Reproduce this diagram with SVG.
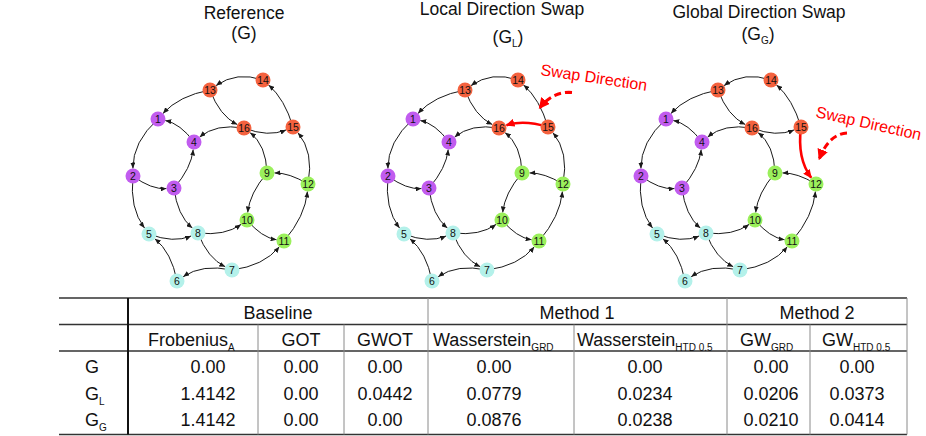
<svg xmlns="http://www.w3.org/2000/svg" width="926" height="436" viewBox="0 0 926 436">
<style>
text{font-family:"Liberation Sans",Arial,Helvetica,sans-serif;fill:#111}
.title{font-size:17.5px;text-anchor:middle}
.e{fill:none;stroke:#1a1a1a;stroke-width:1;marker-end:url(#ah)}
.red{fill:none;stroke:#ff0000;stroke-width:2.6;marker-end:url(#ahr)}
.dash{fill:none;stroke:#ff0000;stroke-width:3;stroke-dasharray:7 4;marker-end:url(#ahd)}
.swap{font-size:16px;fill:#ff0000}
.lbl{font-size:10.5px;text-anchor:middle}
.p{fill:#c15cef}.c{fill:#b4f1ea}.g{fill:#9bf05c}.r{fill:#f4623f}
.th{font-size:18px}
.mid{text-anchor:middle}
.sub{font-size:10px}
.hl{stroke:#333;stroke-width:1.6}
.vl{stroke:#8a8a8a;stroke-width:1}
.vk{stroke:#111;stroke-width:2}
</style>
<defs>
<marker id="ah" markerUnits="userSpaceOnUse" markerWidth="6" markerHeight="5" refX="6" refY="2.5" orient="auto"><path d="M0,0 L6,2.5 L0,5 z" fill="#1a1a1a"/></marker>
<marker id="ahr" markerUnits="userSpaceOnUse" markerWidth="9" markerHeight="8" refX="8" refY="4" orient="auto"><path d="M0,0 L9,4 L0,8 z" fill="#ff0000"/></marker>
<marker id="ahd" markerUnits="userSpaceOnUse" markerWidth="11" markerHeight="11" refX="9" refY="5.5" orient="auto"><path d="M0,0 L11,5.5 L0,11 z" fill="#ff0000"/></marker>
</defs>

<g id="titles">
<text class="title" x="244" y="18.5">Reference</text>
<text class="title" x="244" y="38.5">(G)</text>
<text class="title" x="502" y="15">Local Direction Swap</text>
<text class="title" x="508" y="43">(G<tspan class="sub" dy="4">L</tspan><tspan dy="-4">)</tspan></text>
<text class="title" x="759" y="17.5">Global Direction Swap</text>
<text class="title" x="758" y="40">(G<tspan class="sub" dy="4">G</tspan><tspan dy="-4">)</tspan></text>
</g>

<!-- Graph G -->
<g id="graph-G">
<g id="G-connectors">
<path class="e" d="M263,80 Q236.5,71 216.1,85.6"/>
<path class="e" d="M210,90 Q179.1,95.7 163,113.4"/>
<path class="e" d="M210,90 Q219.5,115.7 237.3,124.6"/>
<path class="e" d="M293,127 Q284.8,99.2 268.6,85"/>
<path class="e" d="M244,128 Q268.5,137.5 286.1,129.9"/>
<path class="e" d="M244,128 Q215.8,123.4 199.7,137.1"/>
<path class="e" d="M194,142 Q180.4,123.7 165.3,120.5"/>
<path class="e" d="M158,119 Q132.7,141.9 132.9,168.5"/>
<path class="e" d="M133,176 Q151.3,189.7 166.5,188.6"/>
<path class="e" d="M174,188 Q191.3,168.2 193.2,149.5"/>
<path class="e" d="M133,176 Q129.4,208.2 144.5,228"/>
<path class="e" d="M174,188 Q177.2,215.3 192.3,228.1"/>
<path class="e" d="M149,234 Q173.5,243.5 191.1,236"/>
<path class="e" d="M177,281 Q171.6,252.4 154.8,238.7"/>
<path class="e" d="M198,233 Q225.1,236.1 241,224.4"/>
<path class="e" d="M198,233 Q207.6,258.3 225.3,266.8"/>
<path class="e" d="M232,270 Q202.1,263.7 183.2,276.7"/>
<path class="e" d="M232,270 Q263.8,265.9 279.3,246.8"/>
<path class="e" d="M247,220 Q261.5,237.5 276.6,239.8"/>
<path class="e" d="M284,241 Q305.2,216.4 307.4,191.5"/>
<path class="e" d="M308,184 Q289.1,172.7 274.5,172.9"/>
<path class="e" d="M267,173 Q249.6,193.3 247.7,212.5"/>
<path class="e" d="M267,173 Q266.2,145 250,132.6"/>
<path class="e" d="M308,184 Q314.1,151.9 297.9,132.7"/>
</g>
<g id="G-n1"><circle class="p" cx="158" cy="119" r="7.5"/><text class="lbl" x="158" y="122.7">1</text></g>
<g id="G-n2"><circle class="p" cx="133" cy="176" r="7.5"/><text class="lbl" x="133" y="179.7">2</text></g>
<g id="G-n3"><circle class="p" cx="174" cy="188" r="7.5"/><text class="lbl" x="174" y="191.7">3</text></g>
<g id="G-n4"><circle class="p" cx="194" cy="142" r="7.5"/><text class="lbl" x="194" y="145.7">4</text></g>
<g id="G-n5"><circle class="c" cx="149" cy="234" r="7.5"/><text class="lbl" x="149" y="237.7">5</text></g>
<g id="G-n6"><circle class="c" cx="177" cy="281" r="7.5"/><text class="lbl" x="177" y="284.7">6</text></g>
<g id="G-n7"><circle class="c" cx="232" cy="270" r="7.5"/><text class="lbl" x="232" y="273.7">7</text></g>
<g id="G-n8"><circle class="c" cx="198" cy="233" r="7.5"/><text class="lbl" x="198" y="236.7">8</text></g>
<g id="G-n9"><circle class="g" cx="267" cy="173" r="7.5"/><text class="lbl" x="267" y="176.7">9</text></g>
<g id="G-n10"><circle class="g" cx="247" cy="220" r="7.5"/><text class="lbl" x="247" y="223.7">10</text></g>
<g id="G-n11"><circle class="g" cx="284" cy="241" r="7.5"/><text class="lbl" x="284" y="244.7">11</text></g>
<g id="G-n12"><circle class="g" cx="308" cy="184" r="7.5"/><text class="lbl" x="308" y="187.7">12</text></g>
<g id="G-n13"><circle class="r" cx="210" cy="90" r="7.5"/><text class="lbl" x="210" y="93.7">13</text></g>
<g id="G-n14"><circle class="r" cx="263" cy="80" r="7.5"/><text class="lbl" x="263" y="83.7">14</text></g>
<g id="G-n15"><circle class="r" cx="293" cy="127" r="7.5"/><text class="lbl" x="293" y="130.7">15</text></g>
<g id="G-n16"><circle class="r" cx="244" cy="128" r="7.5"/><text class="lbl" x="244" y="131.7">16</text></g>
</g>

<!-- Graph GL -->
<g id="graph-GL" transform="translate(255,0)">
<g id="GL-connectors">
<path class="e" d="M263,80 Q236.5,71 216.1,85.6"/>
<path class="e" d="M210,90 Q179.1,95.7 163,113.4"/>
<path class="e" d="M210,90 Q219.5,115.7 237.3,124.6"/>
<path class="e" d="M293,127 Q284.8,99.2 268.6,85"/>
<path class="e" d="M244,128 Q215.8,123.4 199.7,137.1"/>
<path class="e" d="M194,142 Q180.4,123.7 165.3,120.5"/>
<path class="e" d="M158,119 Q132.7,141.9 132.9,168.5"/>
<path class="e" d="M133,176 Q151.3,189.7 166.5,188.6"/>
<path class="e" d="M174,188 Q191.3,168.2 193.2,149.5"/>
<path class="e" d="M133,176 Q129.4,208.2 144.5,228"/>
<path class="e" d="M174,188 Q177.2,215.3 192.3,228.1"/>
<path class="e" d="M149,234 Q173.5,243.5 191.1,236"/>
<path class="e" d="M177,281 Q171.6,252.4 154.8,238.7"/>
<path class="e" d="M198,233 Q225.1,236.1 241,224.4"/>
<path class="e" d="M198,233 Q207.6,258.3 225.3,266.8"/>
<path class="e" d="M232,270 Q202.1,263.7 183.2,276.7"/>
<path class="e" d="M232,270 Q263.8,265.9 279.3,246.8"/>
<path class="e" d="M247,220 Q261.5,237.5 276.6,239.8"/>
<path class="e" d="M284,241 Q305.2,216.4 307.4,191.5"/>
<path class="e" d="M308,184 Q289.1,172.7 274.5,172.9"/>
<path class="e" d="M267,173 Q249.6,193.3 247.7,212.5"/>
<path class="e" d="M267,173 Q266.2,145 250,132.6"/>
<path class="e" d="M308,184 Q314.1,151.9 297.9,132.7"/>
<path class="red" d="M293,127 Q268.5,119.5 251.5,125.3"/>
</g>
<g id="GL-n1"><circle class="p" cx="158" cy="119" r="7.5"/><text class="lbl" x="158" y="122.7">1</text></g>
<g id="GL-n2"><circle class="p" cx="133" cy="176" r="7.5"/><text class="lbl" x="133" y="179.7">2</text></g>
<g id="GL-n3"><circle class="p" cx="174" cy="188" r="7.5"/><text class="lbl" x="174" y="191.7">3</text></g>
<g id="GL-n4"><circle class="p" cx="194" cy="142" r="7.5"/><text class="lbl" x="194" y="145.7">4</text></g>
<g id="GL-n5"><circle class="c" cx="149" cy="234" r="7.5"/><text class="lbl" x="149" y="237.7">5</text></g>
<g id="GL-n6"><circle class="c" cx="177" cy="281" r="7.5"/><text class="lbl" x="177" y="284.7">6</text></g>
<g id="GL-n7"><circle class="c" cx="232" cy="270" r="7.5"/><text class="lbl" x="232" y="273.7">7</text></g>
<g id="GL-n8"><circle class="c" cx="198" cy="233" r="7.5"/><text class="lbl" x="198" y="236.7">8</text></g>
<g id="GL-n9"><circle class="g" cx="267" cy="173" r="7.5"/><text class="lbl" x="267" y="176.7">9</text></g>
<g id="GL-n10"><circle class="g" cx="247" cy="220" r="7.5"/><text class="lbl" x="247" y="223.7">10</text></g>
<g id="GL-n11"><circle class="g" cx="284" cy="241" r="7.5"/><text class="lbl" x="284" y="244.7">11</text></g>
<g id="GL-n12"><circle class="g" cx="308" cy="184" r="7.5"/><text class="lbl" x="308" y="187.7">12</text></g>
<g id="GL-n13"><circle class="r" cx="210" cy="90" r="7.5"/><text class="lbl" x="210" y="93.7">13</text></g>
<g id="GL-n14"><circle class="r" cx="263" cy="80" r="7.5"/><text class="lbl" x="263" y="83.7">14</text></g>
<g id="GL-n15"><circle class="r" cx="293" cy="127" r="7.5"/><text class="lbl" x="293" y="130.7">15</text></g>
<g id="GL-n16"><circle class="r" cx="244" cy="128" r="7.5"/><text class="lbl" x="244" y="131.7">16</text></g>
</g>

<!-- Graph GG -->
<g id="graph-GG" transform="translate(508,0)">
<g id="GG-connectors">
<path class="e" d="M263,80 Q236.5,71 216.1,85.6"/>
<path class="e" d="M210,90 Q179.1,95.7 163,113.4"/>
<path class="e" d="M210,90 Q219.5,115.7 237.3,124.6"/>
<path class="e" d="M293,127 Q284.8,99.2 268.6,85"/>
<path class="e" d="M244,128 Q268.5,137.5 286.1,129.9"/>
<path class="e" d="M244,128 Q215.8,123.4 199.7,137.1"/>
<path class="e" d="M194,142 Q180.4,123.7 165.3,120.5"/>
<path class="e" d="M158,119 Q132.7,141.9 132.9,168.5"/>
<path class="e" d="M133,176 Q151.3,189.7 166.5,188.6"/>
<path class="e" d="M174,188 Q191.3,168.2 193.2,149.5"/>
<path class="e" d="M133,176 Q129.4,208.2 144.5,228"/>
<path class="e" d="M174,188 Q177.2,215.3 192.3,228.1"/>
<path class="e" d="M149,234 Q173.5,243.5 191.1,236"/>
<path class="e" d="M177,281 Q171.6,252.4 154.8,238.7"/>
<path class="e" d="M198,233 Q225.1,236.1 241,224.4"/>
<path class="e" d="M198,233 Q207.6,258.3 225.3,266.8"/>
<path class="e" d="M232,270 Q202.1,263.7 183.2,276.7"/>
<path class="e" d="M232,270 Q263.8,265.9 279.3,246.8"/>
<path class="e" d="M247,220 Q261.5,237.5 276.6,239.8"/>
<path class="e" d="M284,241 Q305.2,216.4 307.4,191.5"/>
<path class="e" d="M308,184 Q289.1,172.7 274.5,172.9"/>
<path class="e" d="M267,173 Q249.6,193.3 247.7,212.5"/>
<path class="e" d="M267,173 Q266.2,145 250,132.6"/>
<path class="red" d="M293,127 Q288.9,158.5 303.2,177.7"/>
</g>
<g id="GG-n1"><circle class="p" cx="158" cy="119" r="7.5"/><text class="lbl" x="158" y="122.7">1</text></g>
<g id="GG-n2"><circle class="p" cx="133" cy="176" r="7.5"/><text class="lbl" x="133" y="179.7">2</text></g>
<g id="GG-n3"><circle class="p" cx="174" cy="188" r="7.5"/><text class="lbl" x="174" y="191.7">3</text></g>
<g id="GG-n4"><circle class="p" cx="194" cy="142" r="7.5"/><text class="lbl" x="194" y="145.7">4</text></g>
<g id="GG-n5"><circle class="c" cx="149" cy="234" r="7.5"/><text class="lbl" x="149" y="237.7">5</text></g>
<g id="GG-n6"><circle class="c" cx="177" cy="281" r="7.5"/><text class="lbl" x="177" y="284.7">6</text></g>
<g id="GG-n7"><circle class="c" cx="232" cy="270" r="7.5"/><text class="lbl" x="232" y="273.7">7</text></g>
<g id="GG-n8"><circle class="c" cx="198" cy="233" r="7.5"/><text class="lbl" x="198" y="236.7">8</text></g>
<g id="GG-n9"><circle class="g" cx="267" cy="173" r="7.5"/><text class="lbl" x="267" y="176.7">9</text></g>
<g id="GG-n10"><circle class="g" cx="247" cy="220" r="7.5"/><text class="lbl" x="247" y="223.7">10</text></g>
<g id="GG-n11"><circle class="g" cx="284" cy="241" r="7.5"/><text class="lbl" x="284" y="244.7">11</text></g>
<g id="GG-n12"><circle class="g" cx="308" cy="184" r="7.5"/><text class="lbl" x="308" y="187.7">12</text></g>
<g id="GG-n13"><circle class="r" cx="210" cy="90" r="7.5"/><text class="lbl" x="210" y="93.7">13</text></g>
<g id="GG-n14"><circle class="r" cx="263" cy="80" r="7.5"/><text class="lbl" x="263" y="83.7">14</text></g>
<g id="GG-n15"><circle class="r" cx="293" cy="127" r="7.5"/><text class="lbl" x="293" y="130.7">15</text></g>
<g id="GG-n16"><circle class="r" cx="244" cy="128" r="7.5"/><text class="lbl" x="244" y="131.7">16</text></g>
</g>

<g id="annotations">
<path class="dash" d="M572,92.5 Q553,91 540,107.5"/>
<text class="swap" transform="translate(540,75) rotate(8.5)">Swap Direction</text>
<path class="dash" d="M847,133 Q829,134 819.5,158.5"/>
<text class="swap" transform="translate(815,117) rotate(12.5)">Swap Direction</text>
</g>

<g id="table">
<path class="hl" d="M59,298 H907 M59,324.5 H907 M59,351 H907 M59,434.5 H907"/>
<path class="vl" d="M428,298 V434.5 M727,298 V434.5 M907,298 V434.5 M258,324.5 V434.5 M344,324.5 V434.5 M574,324.5 V434.5 M810,324.5 V434.5"/>
<path class="vk" d="M128,298 V434.5"/>
<text class="th mid" x="278" y="318.5">Baseline</text>
<text class="th mid" x="577" y="318.5">Method 1</text>
<text class="th mid" x="817" y="318.5">Method 2</text>
<text class="th" x="148" y="346">Frobenius<tspan class="sub" dy="5">A</tspan></text>
<text class="th mid" x="301" y="346">GOT</text>
<text class="th mid" x="385" y="346">GWOT</text>
<text class="th" x="433" y="346">Wasserstein<tspan class="sub" dy="5">GRD</tspan></text>
<text class="th" x="577" y="346">Wasserstein<tspan class="sub" dy="5">HTD 0.5</tspan></text>
<text class="th" x="740" y="346">GW<tspan class="sub" dy="5">GRD</tspan></text>
<text class="th" x="822" y="346">GW<tspan class="sub" dy="5">HTD 0.5</tspan></text>
<text class="th" x="85" y="373">G</text>
<text class="th" x="85" y="399.5">G<tspan class="sub" dy="5">L</tspan></text>
<text class="th" x="85" y="426">G<tspan class="sub" dy="5">G</tspan></text>
<g class="th mid">
<text class="th mid" x="208" y="373">0.00</text>
<text class="th mid" x="301" y="373">0.00</text>
<text class="th mid" x="385" y="373">0.00</text>
<text class="th mid" x="494" y="373">0.00</text>
<text class="th mid" x="645" y="373">0.00</text>
<text class="th mid" x="771" y="373">0.00</text>
<text class="th mid" x="857" y="373">0.00</text>
<text class="th mid" x="208" y="399.5">1.4142</text>
<text class="th mid" x="301" y="399.5">0.00</text>
<text class="th mid" x="385" y="399.5">0.0442</text>
<text class="th mid" x="494" y="399.5">0.0779</text>
<text class="th mid" x="645" y="399.5">0.0234</text>
<text class="th mid" x="771" y="399.5">0.0206</text>
<text class="th mid" x="857" y="399.5">0.0373</text>
<text class="th mid" x="208" y="426">1.4142</text>
<text class="th mid" x="301" y="426">0.00</text>
<text class="th mid" x="385" y="426">0.00</text>
<text class="th mid" x="494" y="426">0.0876</text>
<text class="th mid" x="645" y="426">0.0238</text>
<text class="th mid" x="771" y="426">0.0210</text>
<text class="th mid" x="857" y="426">0.0414</text>
</g>
</g>
</svg>
